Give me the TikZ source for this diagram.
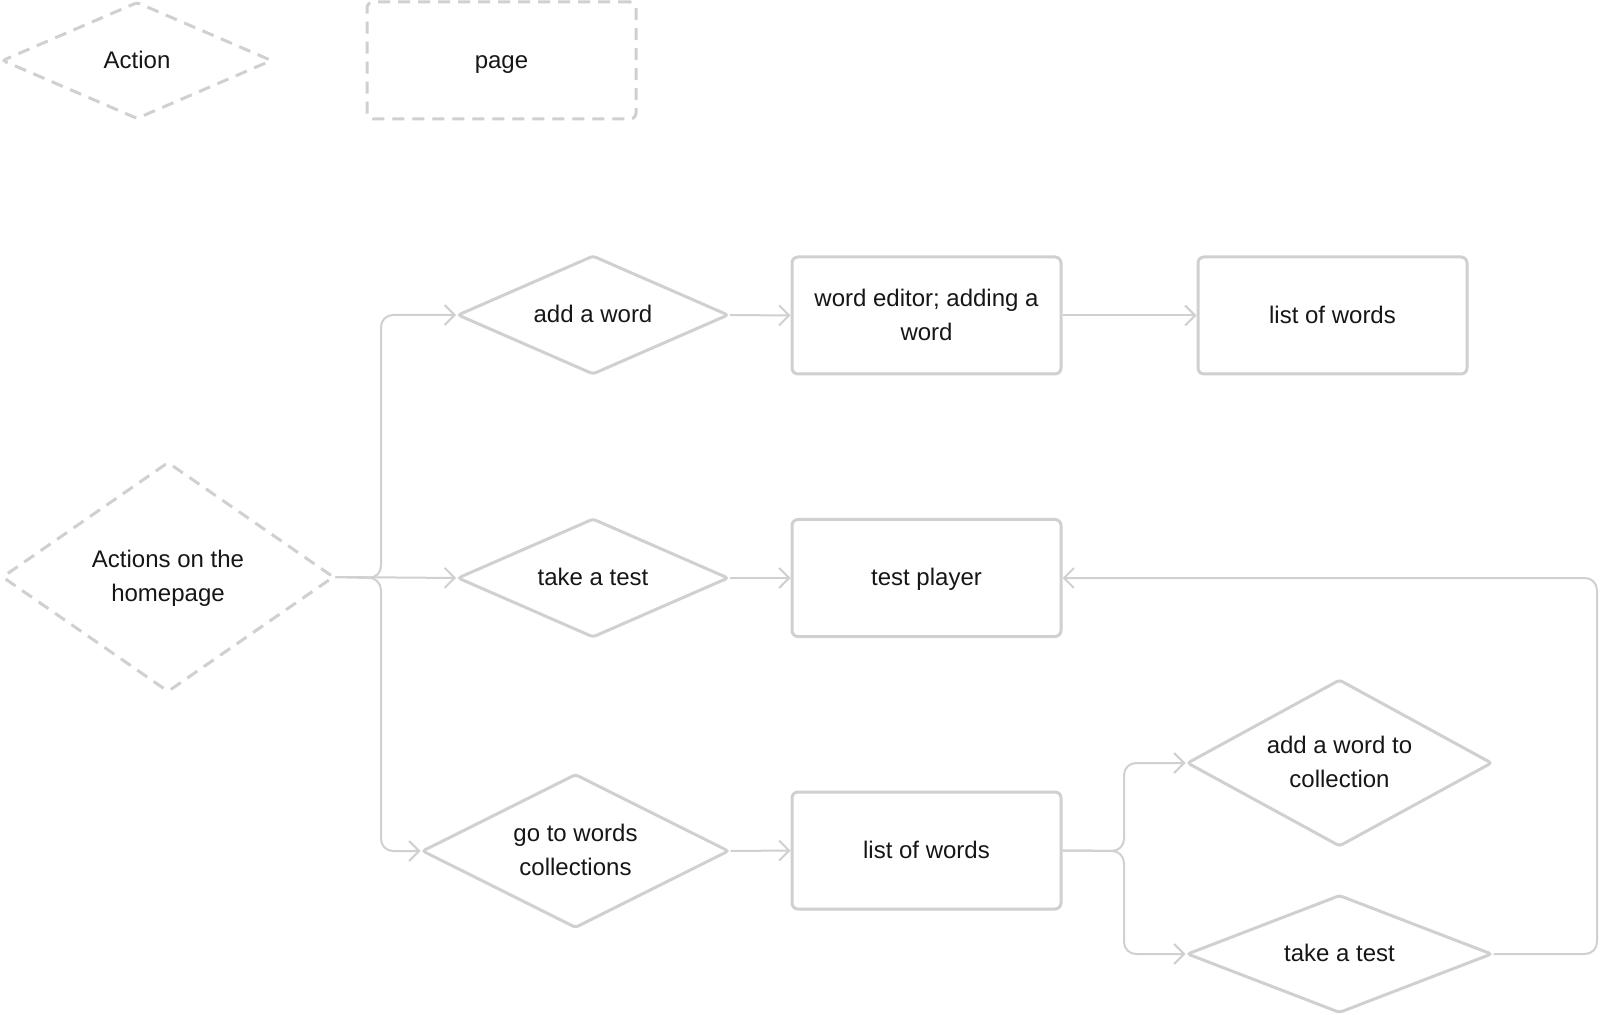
\documentclass[tikz,border=0pt]{standalone}
\usepackage{fontspec}
\setmainfont{Liberation Sans}
\usetikzlibrary{arrows.meta,shapes.geometric}
\definecolor{edgegray}{RGB}{208,208,208}
\definecolor{inkblack}{RGB}{22,22,22}

\begin{document}
\begin{tikzpicture}[x=0.5pt,y=-0.5pt,
  every node/.style={font=\fontsize{12}{17}\selectfont, text=inkblack, align=center,
    text height=12.3pt, text depth=4.7pt},
  twolines/.style={text height=29.3pt},
  act/.style={diamond, aspect=2, draw=edgegray, line width=1.5pt, inner sep=0pt, rounded corners=1.5pt},
  pg/.style={rectangle, draw=edgegray, line width=1.5pt, inner sep=0pt, rounded corners=3pt, minimum width=134.5pt, minimum height=58.5pt},
  legend/.style={dash pattern=on 6pt off 4pt},
  conn/.style={draw=edgegray, line width=1pt, rounded corners=6pt, -{Straight Barb[length=5pt,width=10pt]}}]
\useasboundingbox (0,0) rectangle (1600,1015);
% legend
\node[act, legend, minimum width=135pt, minimum height=58.5pt] (legact) at (137,60.5) {Action};
\node[pg, legend] (legpage) at (501.5,60.5) {page};
% flow
\node[act, legend, twolines, minimum width=166pt, minimum height=115pt] (home) at (168,577) {Actions on the\\homepage};
\node[act, minimum width=135.5pt, minimum height=59.5pt] (addw) at (593,315) {add a word};
\node[pg, twolines] (editor) at (926.5,315.5) {word editor; adding a\\word};
\node[pg] (listtop) at (1332.5,315.5) {list of words};
\node[act, minimum width=135.5pt, minimum height=59.5pt] (test) at (593,578) {take a test};
\node[pg] (player) at (926.5,578) {test player};
\node[act, twolines, minimum width=153.5pt, minimum height=77pt] (gocoll) at (575.5,851) {go to words\\collections};
\node[pg] (listbot) at (926.5,850.5) {list of words};
\node[act, twolines, minimum width=152.5pt, minimum height=83.5pt] (addcoll) at (1339.5,763) {add a word to\\collection};
\node[act, minimum width=152.5pt, minimum height=59pt] (test2) at (1339.5,954) {take a test};

\coordinate (forkA) at (381,578);
\coordinate (forkB) at (1124,851);
\coordinate (backR) at (1597,954);

\draw[conn] (home.east) -- (forkA) |- (addw.west);
\draw[conn] (home.east) -- (test.west);
\draw[conn] (home.east) -- (forkA) |- (gocoll.west);
\draw[conn] (addw.east) -- (editor.west);
\draw[conn] (editor.east) -- (listtop.west);
\draw[conn] (test.east) -- (player.west);
\draw[conn] (gocoll.east) -- (listbot.west);
\draw[conn] (listbot.east) -- (forkB) |- (addcoll.west);
\draw[conn] (listbot.east) -- (forkB) |- (test2.west);
\draw[conn] (test2.east) -- (backR) |- (player.east);
\end{tikzpicture}
\end{document}
